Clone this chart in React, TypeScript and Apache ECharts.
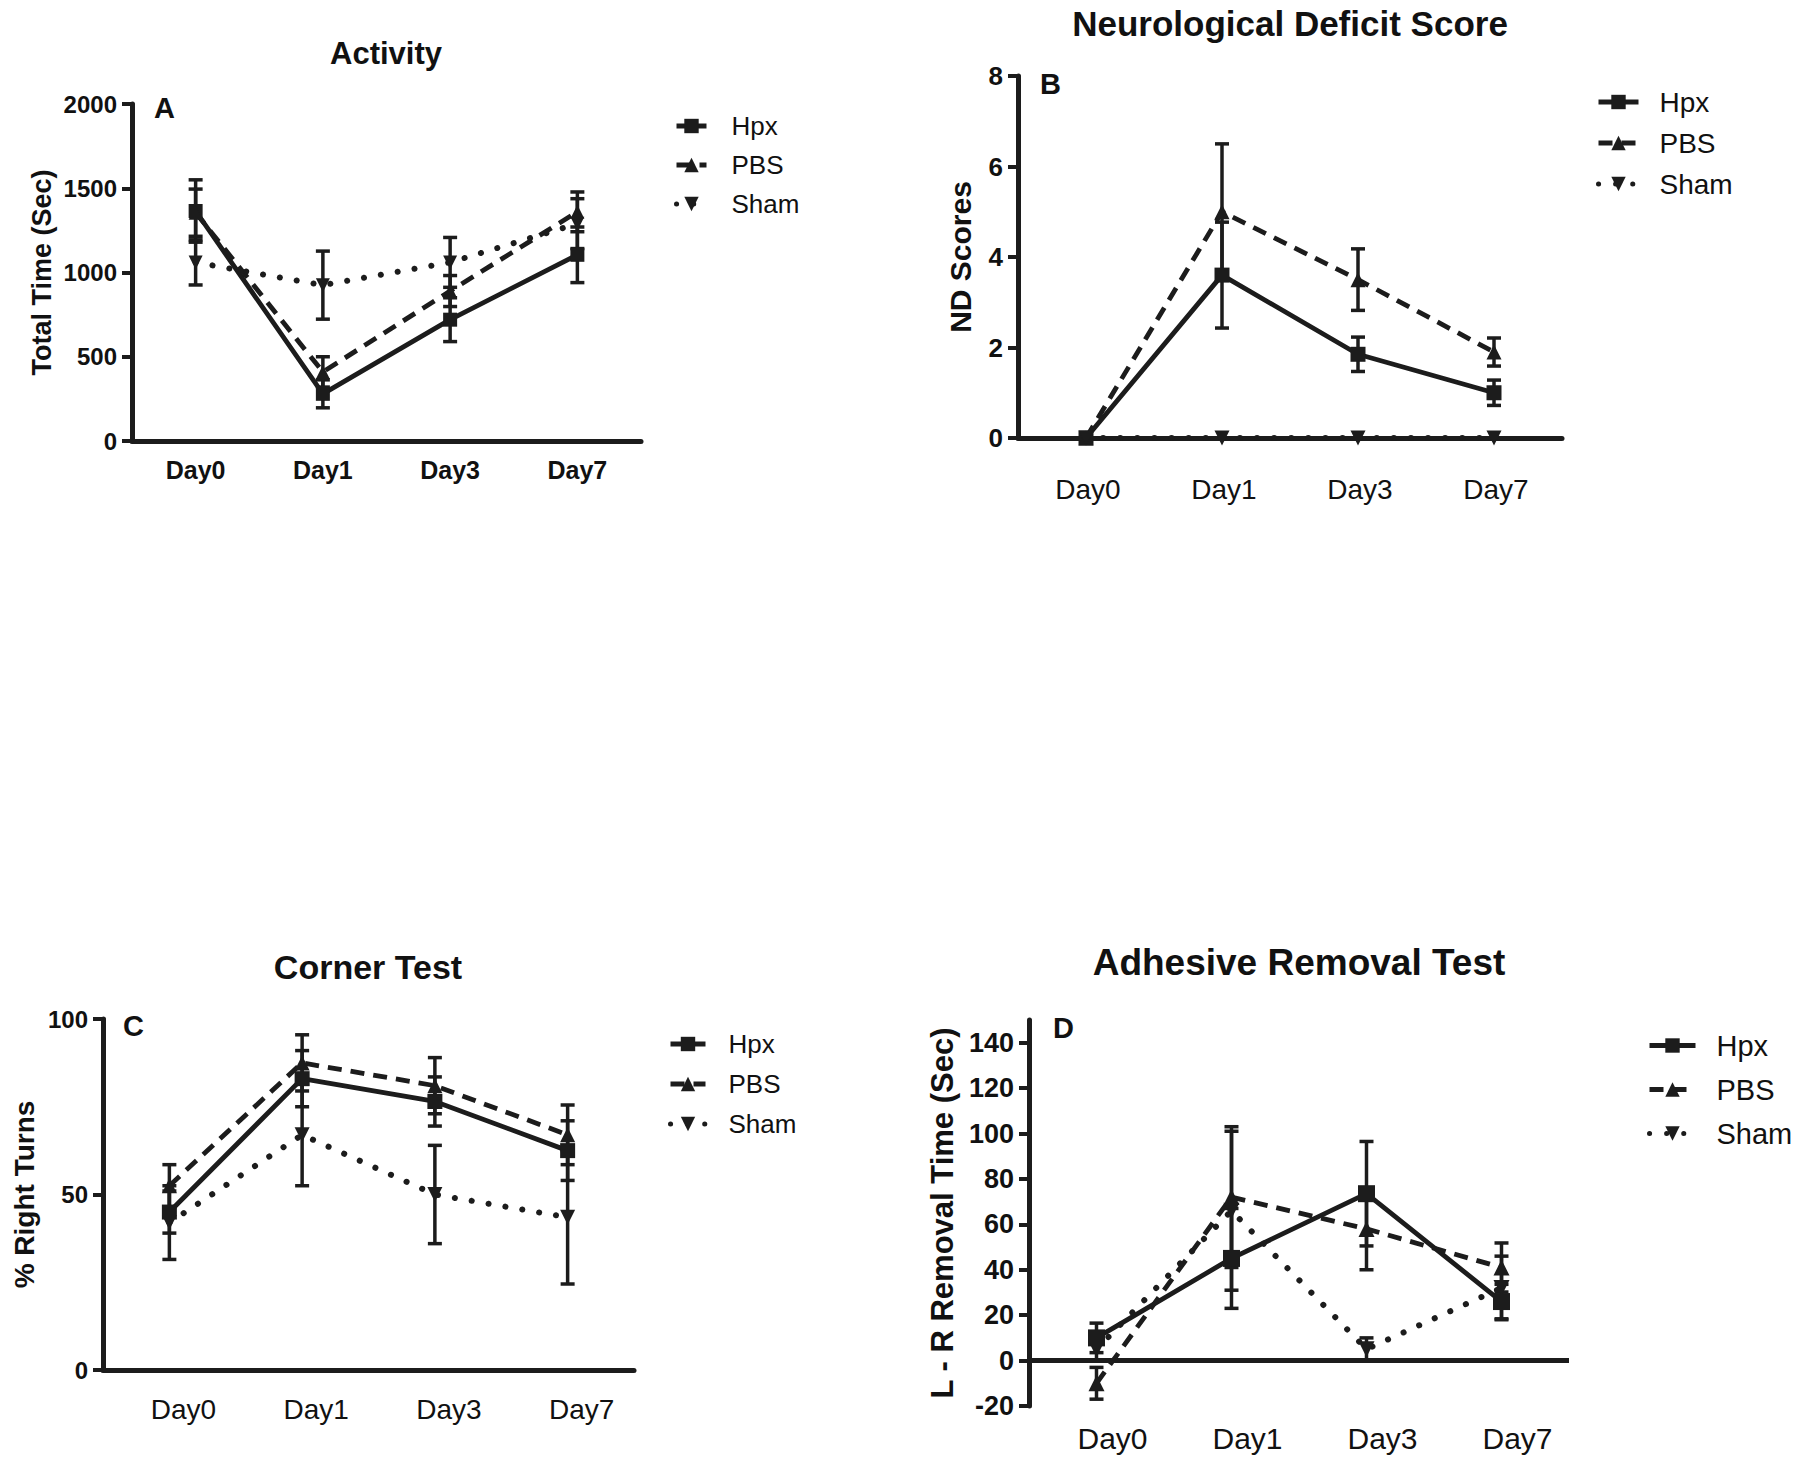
import React, { useEffect, useRef } from "react";
import * as echarts from "echarts";

const categories = ["Day0", "Day1", "Day3", "Day7"];
const groupNames = ["Hpx", "PBS", "Sham"];

// Panel A – Activity (Total Time, Sec)
const activityHpx = [1365, 280, 720, 1105];
const activityHpxSem = [185, 83, 130, 165];
const activityPbs = [1355, 410, 890, 1360];
const activityPbsSem = [140, 90, 92, 118];
const activitySham = [1060, 925, 1060, 1290];
const activityShamSem = [134, 202, 148, 148];
const activityTicks = [0, 500, 1000, 1500, 2000];

// Panel B – Neurological Deficit Score
const ndHpx = [0, 3.6, 1.85, 1.0];
const ndHpxSem = [0, 1.17, 0.38, 0.28];
const ndPbs = [0, 5.0, 3.5, 1.9];
const ndPbsSem = [0, 1.5, 0.68, 0.31];
const ndSham = [0, 0, 0, 0];
const ndShamSem = [0, 0, 0, 0];
const ndTicks = [0, 2, 4, 6, 8];

// Panel C – Corner Test (% Right Turns)
const cornerHpx = [45, 83, 76.5, 62.5];
const cornerHpxSem = [6, 8, 7, 8.5];
const cornerPbs = [52.5, 87.5, 81, 67];
const cornerPbsSem = [6, 8, 8, 8.5];
const cornerSham = [42, 67, 50, 43.5];
const cornerShamSem = [10.5, 14.5, 14, 19];
const cornerTicks = [0, 50, 100];

// Panel D – Adhesive Removal Test (L - R Removal Time, Sec)
const adhHpx = [10, 45, 73.5, 26];
const adhHpxSem = [6.5, 22, 23, 7.6];
const adhPbs = [-10, 72, 58, 41];
const adhPbsSem = [7, 31, 18, 10.8];
const adhSham = [5, 66, 5, 32];
const adhShamSem = [5, 35, 5, 14];
const adhTicks = [-20, 0, 20, 40, 60, 80, 100, 120, 140];

const INK = "#1c1c1c";
const FONT = "'Liberation Sans', Arial, Helvetica, sans-serif";
const INV_TRI = "path://M0,0L10,0L5,9Z";

const styles: any = {
  Hpx: { symbol: "rect", type: "solid", width: 4.8, cap: "butt" },
  PBS: { symbol: "triangle", type: [14, 9], width: 4.8, cap: "butt" },
  Sham: { symbol: INV_TRI, type: [0.1, 17], width: 6, cap: "round" },
};

function lineSeries(idx: number, name: string, data: number[], size: number, extra: any = {}) {
  const s = styles[name];
  return {
    type: "line",
    name,
    xAxisIndex: idx,
    yAxisIndex: idx,
    data,
    symbol: s.symbol,
    symbolSize: size,
    showAllSymbol: true,
    lineStyle: { color: INK, width: s.width, type: s.type, cap: s.cap },
    itemStyle: { color: INK },
    emphasis: { disabled: true },
    z: 4,
    ...extra,
  };
}

function errorSeries(idx: number, means: number[], sems: number[], capHalf: number, lw: number) {
  return {
    type: "custom",
    xAxisIndex: idx,
    yAxisIndex: idx,
    silent: true,
    z: 3,
    encode: { x: 0, y: [1, 2] },
    data: means.map((m, i) => [i, m - sems[i], m + sems[i]]),
    renderItem: (params: any, api: any) => {
      const x = api.value(0);
      const lo = api.coord([x, api.value(1)]);
      const hi = api.coord([x, api.value(2)]);
      if (Math.abs(hi[1] - lo[1]) < 1) return null;
      const style = { stroke: INK, lineWidth: lw };
      return {
        type: "group",
        children: [
          { type: "line", shape: { x1: lo[0], y1: lo[1], x2: hi[0], y2: hi[1] }, style },
          { type: "line", shape: { x1: lo[0] - capHalf, y1: lo[1], x2: lo[0] + capHalf, y2: lo[1] }, style },
          { type: "line", shape: { x1: hi[0] - capHalf, y1: hi[1], x2: hi[0] + capHalf, y2: hi[1] }, style },
        ],
      };
    },
  };
}

function xAxis(idx: number, fontSize: number, bold: boolean, margin: number, shift: number, showLine = true) {
  return {
    type: "category",
    gridIndex: idx,
    data: categories,
    boundaryGap: true,
    axisLine: { show: showLine, onZero: false, lineStyle: { color: INK, width: 5 } },
    axisTick: { show: false },
    axisLabel: {
      color: "#111",
      fontFamily: FONT,
      fontSize,
      fontWeight: bold ? "bold" : "normal",
      margin,
      padding: [0, 0, 0, shift],
    },
    splitLine: { show: false },
  };
}

function yAxis(idx: number, name: string, min: number, max: number, ticks: number[], fontSize: number, nameSize: number, nameGap: number) {
  return {
    type: "value",
    gridIndex: idx,
    min,
    max,
    name,
    nameLocation: "middle",
    nameRotate: 90,
    nameGap,
    nameTextStyle: { color: "#111", fontFamily: FONT, fontSize: nameSize, fontWeight: "bold" },
    axisLine: { show: true, onZero: false, lineStyle: { color: INK, width: 5 } },
    axisTick: { show: true, length: 10, lineStyle: { color: INK, width: 4 }, customValues: ticks },
    axisLabel: {
      color: "#111",
      fontFamily: FONT,
      fontSize,
      fontWeight: "bold",
      margin: 15,
      customValues: ticks,
      formatter: (v: number) => String(v),
    },
    splitLine: { show: false },
  };
}

function legend(left: number, top: number, itemWidth: number, fontSize: number, gap: number, pad: number) {
  return {
    data: groupNames,
    orient: "vertical",
    left,
    top,
    padding: 0,
    itemWidth,
    itemHeight: 18,
    itemGap: gap,
    selectedMode: false,
    lineStyle: { width: 5 },
    textStyle: { color: "#111", fontFamily: FONT, fontSize, padding: [0, 0, 0, pad] },
  };
}

function titleText(x: number, y: number, text: string, size: number) {
  return {
    type: "text",
    x,
    y,
    silent: true,
    style: {
      text,
      fill: "#111",
      font: `bold ${size}px ${FONT}`,
      textAlign: "center",
      textVerticalAlign: "middle",
    },
  };
}

function panelLetter(x: number, y: number, text: string) {
  return {
    type: "text",
    x,
    y,
    silent: true,
    style: { text, fill: "#111", font: `bold 29px ${FONT}`, textVerticalAlign: "middle" },
  };
}

export default function App() {
  const ref = useRef<HTMLDivElement>(null);

  useEffect(() => {
    if (!ref.current) return;
    const chart = echarts.init(ref.current, null, { renderer: "svg", width: 1800, height: 1465 });
    const option: any = {
      animation: false,
      backgroundColor: "#ffffff",
      grid: [
        { left: 132, top: 104, width: 509, height: 337, outerBoundsMode: "none" },
        { left: 1018, top: 76, width: 544, height: 362, outerBoundsMode: "none" },
        { left: 103, top: 1019, width: 531, height: 351, outerBoundsMode: "none" },
        { left: 1029, top: 1020, width: 540, height: 386, outerBoundsMode: "none" },
      ],
      xAxis: [
        xAxis(0, 25, true, 16, 0),
        xAxis(1, 28, false, 37, 4),
        xAxis(2, 28, false, 25, 28),
        xAxis(3, 30, false, 17, 32, false),
      ],
      yAxis: [
        yAxis(0, "Total Time (Sec)", 0, 2000, activityTicks, 24, 27, 77),
        yAxis(1, "ND Scores", 0, 8, ndTicks, 26, 30, 43),
        yAxis(2, "% Right Turns", 0, 100, cornerTicks, 24, 28, 65),
        yAxis(3, "L - R Removal Time (Sec)", -20, 150, adhTicks, 27, 31, 71),
      ],
      legend: [
        legend(674, 113, 30, 26, 13, 20),
        legend(1596, 88, 40, 28, 13, 16),
        legend(668, 1031, 35, 26, 14, 18),
        legend(1647, 1031, 46, 29, 15, 16),
      ],
      graphic: [
        titleText(386, 53, "Activity", 31),
        titleText(1290, 23, "Neurological Deficit Score", 35),
        titleText(368, 967, "Corner Test", 34),
        titleText(1299, 962, "Adhesive Removal Test", 37),
        panelLetter(154, 108, "A"),
        panelLetter(1040, 84, "B"),
        panelLetter(123, 1026, "C"),
        panelLetter(1053, 1028, "D"),
      ],
      series: [
        // A
        errorSeries(0, activityHpx, activityHpxSem, 7, 3.5),
        errorSeries(0, activityPbs, activityPbsSem, 7, 3.5),
        errorSeries(0, activitySham, activityShamSem, 7, 3.5),
        lineSeries(0, "Hpx", activityHpx, 14),
        lineSeries(0, "PBS", activityPbs, 14),
        lineSeries(0, "Sham", activitySham, 14),
        // B
        errorSeries(1, ndHpx, ndHpxSem, 7, 3.5),
        errorSeries(1, ndPbs, ndPbsSem, 7, 3.5),
        errorSeries(1, ndSham, ndShamSem, 7, 3.5),
        lineSeries(1, "Hpx", ndHpx, 15),
        lineSeries(1, "PBS", ndPbs, 15),
        lineSeries(1, "Sham", ndSham, 15),
        // C
        errorSeries(2, cornerHpx, cornerHpxSem, 7, 3.5),
        errorSeries(2, cornerPbs, cornerPbsSem, 7, 3.5),
        errorSeries(2, cornerSham, cornerShamSem, 7, 3.5),
        lineSeries(2, "Hpx", cornerHpx, 15),
        lineSeries(2, "PBS", cornerPbs, 15),
        lineSeries(2, "Sham", cornerSham, 15),
        // D
        errorSeries(3, adhHpx, adhHpxSem, 7, 3.5),
        errorSeries(3, adhPbs, adhPbsSem, 7, 3.5),
        errorSeries(3, adhSham, adhShamSem, 7, 3.5),
        lineSeries(3, "Hpx", adhHpx, 17, {
          markLine: {
            silent: true,
            symbol: ["none", "none"],
            label: { show: false },
            lineStyle: { color: INK, width: 5, type: "solid" },
            emphasis: { disabled: true },
            data: [{ yAxis: 0 }],
          },
        }),
        lineSeries(3, "PBS", adhPbs, 16),
        lineSeries(3, "Sham", adhSham, 16),
      ],
    };
    chart.setOption(option);
    return () => {
      chart.dispose();
    };
  }, []);

  return (
    <div
      style={{ position: "fixed", left: 0, top: 0, width: 1800, height: 1465, background: "#ffffff" }}
    >
      <div ref={ref} style={{ width: 1800, height: 1465 }} />
    </div>
  );
}
